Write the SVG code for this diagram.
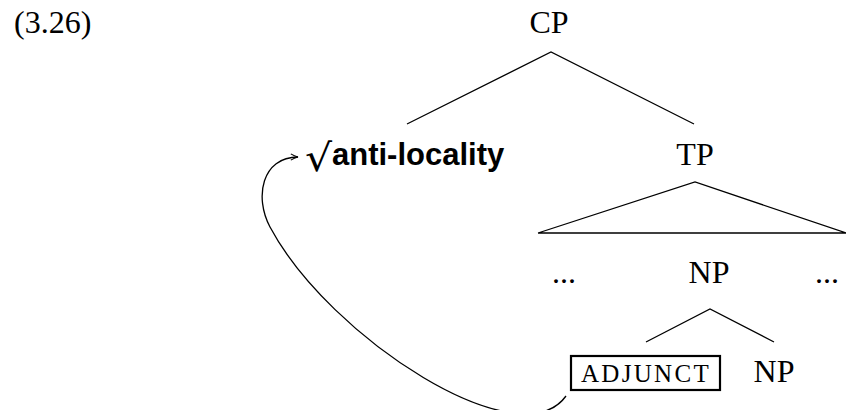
<svg xmlns="http://www.w3.org/2000/svg" width="846" height="410" viewBox="0 0 846 410">
  <defs>
    <style>
      .lbl { font-family: "Liberation Serif", "Times New Roman", serif; font-size: 32px; fill: #000; }
      .sc { font-family: "Liberation Serif", "Times New Roman", serif; font-size: 25px; letter-spacing: 2.3px; fill: #000; }
      .sans { font-family: "Liberation Sans", Arial, sans-serif; font-size: 31px; font-weight: bold; fill: #000; }
      .surd { font-family: "DejaVu Sans", sans-serif; font-size: 38px; fill: #000; }
      .edge { stroke: #000; stroke-width: 1.3; fill: none; }
    </style>
    <marker id="tip" viewBox="0 0 10 10" refX="9" refY="5" markerWidth="9" markerHeight="9" markerUnits="userSpaceOnUse" orient="auto">
      <path d="M1,1.5 Q5,4 9,5 Q5,6 1,8.5" fill="none" stroke="#000" stroke-width="1.2"/>
    </marker>
  </defs>

  <!-- example number -->
  <text id="exnum" class="lbl" x="14" y="33">(3.26)</text>

  <!-- tree nodes -->
  <g id="cp"><text class="lbl" x="549" y="33" text-anchor="middle">CP</text></g>
  <g id="root-anti-locality">
    <text class="surd" transform="translate(305,171) scale(1.12,1)">√</text>
    <text class="sans" x="332" y="165">anti-locality</text>
  </g>
  <g id="tp"><text class="lbl" x="695" y="165" text-anchor="middle">TP</text></g>
  <g id="dots-left"><text class="lbl" x="564" y="283" text-anchor="middle">...</text></g>
  <g id="np-mid"><text class="lbl" x="709" y="283" text-anchor="middle">NP</text></g>
  <g id="dots-right"><text class="lbl" x="827" y="283" text-anchor="middle">...</text></g>
  <g id="adjunct">
    <rect x="571" y="356" width="149" height="34" fill="none" stroke="#000" stroke-width="2.2"/>
    <text class="sc" x="646" y="382" text-anchor="middle">ADJUNCT</text>
  </g>
  <g id="np-low"><text class="lbl" x="774" y="382" text-anchor="middle">NP</text></g>

  <!-- branches, triangle and movement arrow -->
  <g id="connectors">
    <path class="edge" d="M407,124 L551,52 L694,124"/>
    <path class="edge" d="M538,233 L695,182 L846,233 M538,233 L846,233"/>
    <path class="edge" d="M646,342 L710,309 L774,342"/>
    <path class="edge" d="M566,396 C520,460 330,339 270,227 C254,197 262,157 298,157" marker-end="url(#tip)"/>
  </g>
</svg>
